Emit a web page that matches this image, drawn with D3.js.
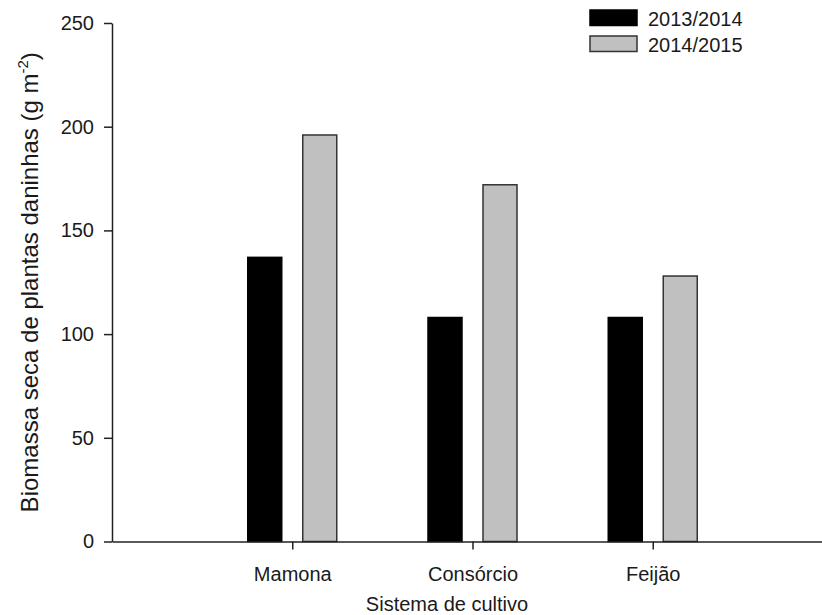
<!DOCTYPE html>
<html>
<head>
<meta charset="utf-8">
<script src="https://cdn.jsdelivr.net/npm/d3@7"></script>
<style>
  html, body { margin: 0; padding: 0; background: #fff; }
  svg { display: block; }
  text { font-family: "Liberation Sans", Arial, sans-serif; fill: #1a1a1a; }
</style>
</head>
<body>
<svg id="chart" width="822" height="615"></svg>
<script>
// Weed dry biomass by cropping system, two seasons
const categories = ["Mamona", "Consórcio", "Feijão"];
const seasons = ["2013/2014", "2014/2015"];
const values2013 = [137, 108, 108];
const values2014 = [196, 172, 128];
const yTicks = [0, 50, 100, 150, 200, 250];

const seriesValues = [values2013, values2014];
const fills = ["#000000", "#c0c0c0"];
const strokes = ["#000000", "#333333"];

const svg = d3.select("#chart");

const x = d3.scalePoint().domain(categories).range([112, 833]).padding(1);
const xInner = d3.scaleBand().domain(seasons).range([-44.5, 44.5]).paddingInner(0.382);
const y = d3.scaleLinear().domain([0, 250]).range([541.5, 23]);

// Bars
seasons.forEach((s, si) => {
  svg.append("g")
    .selectAll("rect")
    .data(categories.map((c, ci) => ({ c, v: seriesValues[si][ci] })))
    .join("rect")
    .attr("x", d => x(d.c) + xInner(s))
    .attr("width", xInner.bandwidth())
    .attr("y", d => y(d.v))
    .attr("height", d => y(0) - y(d.v))
    .attr("fill", fills[si])
    .attr("stroke", strokes[si])
    .attr("stroke-width", 1.5);
});

// Y axis
const yAxis = svg.append("g")
  .attr("transform", `translate(112,0)`)
  .call(d3.axisLeft(y).tickValues(yTicks).tickSize(8).tickSizeOuter(0).tickPadding(10));
yAxis.selectAll("text").attr("font-size", 20).attr("fill", "#1a1a1a")
  .style("font-family", '"Liberation Sans", Arial, sans-serif');

// X axis
const xAxis = svg.append("g")
  .attr("transform", `translate(0,${y(0)})`)
  .call(d3.axisBottom(x).tickSize(8).tickSizeOuter(0).tickPadding(17));
xAxis.selectAll("text").attr("font-size", 20).attr("fill", "#1a1a1a")
  .style("font-family", '"Liberation Sans", Arial, sans-serif');

[yAxis, xAxis].forEach(g => {
  g.select(".domain").attr("stroke", "#222").attr("stroke-width", 1.5);
  g.selectAll(".tick line").attr("stroke", "#222").attr("stroke-width", 1.5);
});

// Axis titles
svg.append("text")
  .attr("x", 447).attr("y", 611)
  .attr("text-anchor", "middle")
  .attr("font-size", 20)
  .text("Sistema de cultivo");

const yTitle = svg.append("text")
  .attr("transform", `translate(38,${(y(0) + y(250)) / 2}) rotate(-90)`)
  .attr("text-anchor", "middle")
  .attr("font-size", 24);
yTitle.append("tspan").text("Biomassa seca de plantas daninhas (g m");
yTitle.append("tspan").attr("font-size", 15).attr("dy", -10).text("-2");
yTitle.append("tspan").attr("dy", 10).text(")");

// Legend
const legend = svg.append("g");
seasons.forEach((s, i) => {
  const row = legend.append("g").attr("transform", `translate(590,${10 + i * 26})`);
  row.append("rect")
    .attr("width", 47).attr("height", 15.5)
    .attr("fill", fills[i]).attr("stroke", strokes[i]).attr("stroke-width", 1.5);
  row.append("text")
    .attr("x", 58).attr("y", 15.5)
    .attr("font-size", 20)
    .text(s);
});
</script>
</body>
</html>
